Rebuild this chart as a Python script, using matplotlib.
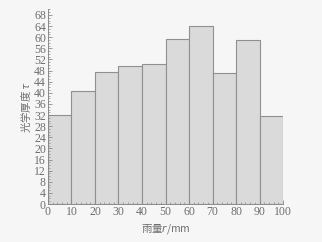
"""Histogram of optical thickness vs rainfall."""

import matplotlib

matplotlib.use("Agg")
import matplotlib.pyplot as plt
from matplotlib.ticker import MultipleLocator

bin_edges = [0, 10, 20, 30, 40, 50, 60, 70, 80, 90, 100]
tau_values = [32, 40.5, 47.5, 49.5, 50.5, 59.5, 64, 47, 59, 31.5]
x_ticks = list(range(0, 101, 10))
y_ticks = list(range(0, 69, 4))

text_color = "#6e6e6e"
bg = "#f6f6f6"

fig = plt.figure(figsize=(3.22, 2.42), dpi=100, facecolor=bg)
ax = fig.add_axes([0.149, 0.157, 0.73, 0.804], facecolor=bg)

ax.bar(bin_edges[:-1], tau_values, width=10, align="edge",
       color="#dadada", edgecolor="#909090", linewidth=0.8)

ax.set_xlim(0, 100)
ax.set_ylim(0, 70)
ax.set_xticks(x_ticks)
ax.set_yticks(y_ticks)
ax.xaxis.set_minor_locator(MultipleLocator(2))
ax.yaxis.set_minor_locator(MultipleLocator(1))
ax.tick_params(which="both", direction="in", colors="#8a8a8a", labelcolor=text_color,
               labelsize=8.5, pad=1.5)
ax.tick_params(which="major", length=3, width=0.6)
ax.tick_params(which="minor", length=1.5, width=0.5)
for lab in ax.get_xticklabels() + ax.get_yticklabels():
    lab.set_family("Liberation Serif")

for side in ("top", "right"):
    ax.spines[side].set_visible(False)
for side in ("left", "bottom"):
    ax.spines[side].set_color("#8a8a8a")
    ax.spines[side].set_linewidth(0.7)

ax.set_xlabel("雨量$r$/mm", family=["Noto Sans CJK SC", "DejaVu Sans"],
              fontsize=7.5, color=text_color, labelpad=3)
ax.set_ylabel("光学厚度 $\\tau$", family=["Noto Sans CJK SC", "DejaVu Sans"],
              fontsize=7.5, color=text_color, labelpad=1)

fig.savefig("out.png", dpi=100, facecolor=bg)
